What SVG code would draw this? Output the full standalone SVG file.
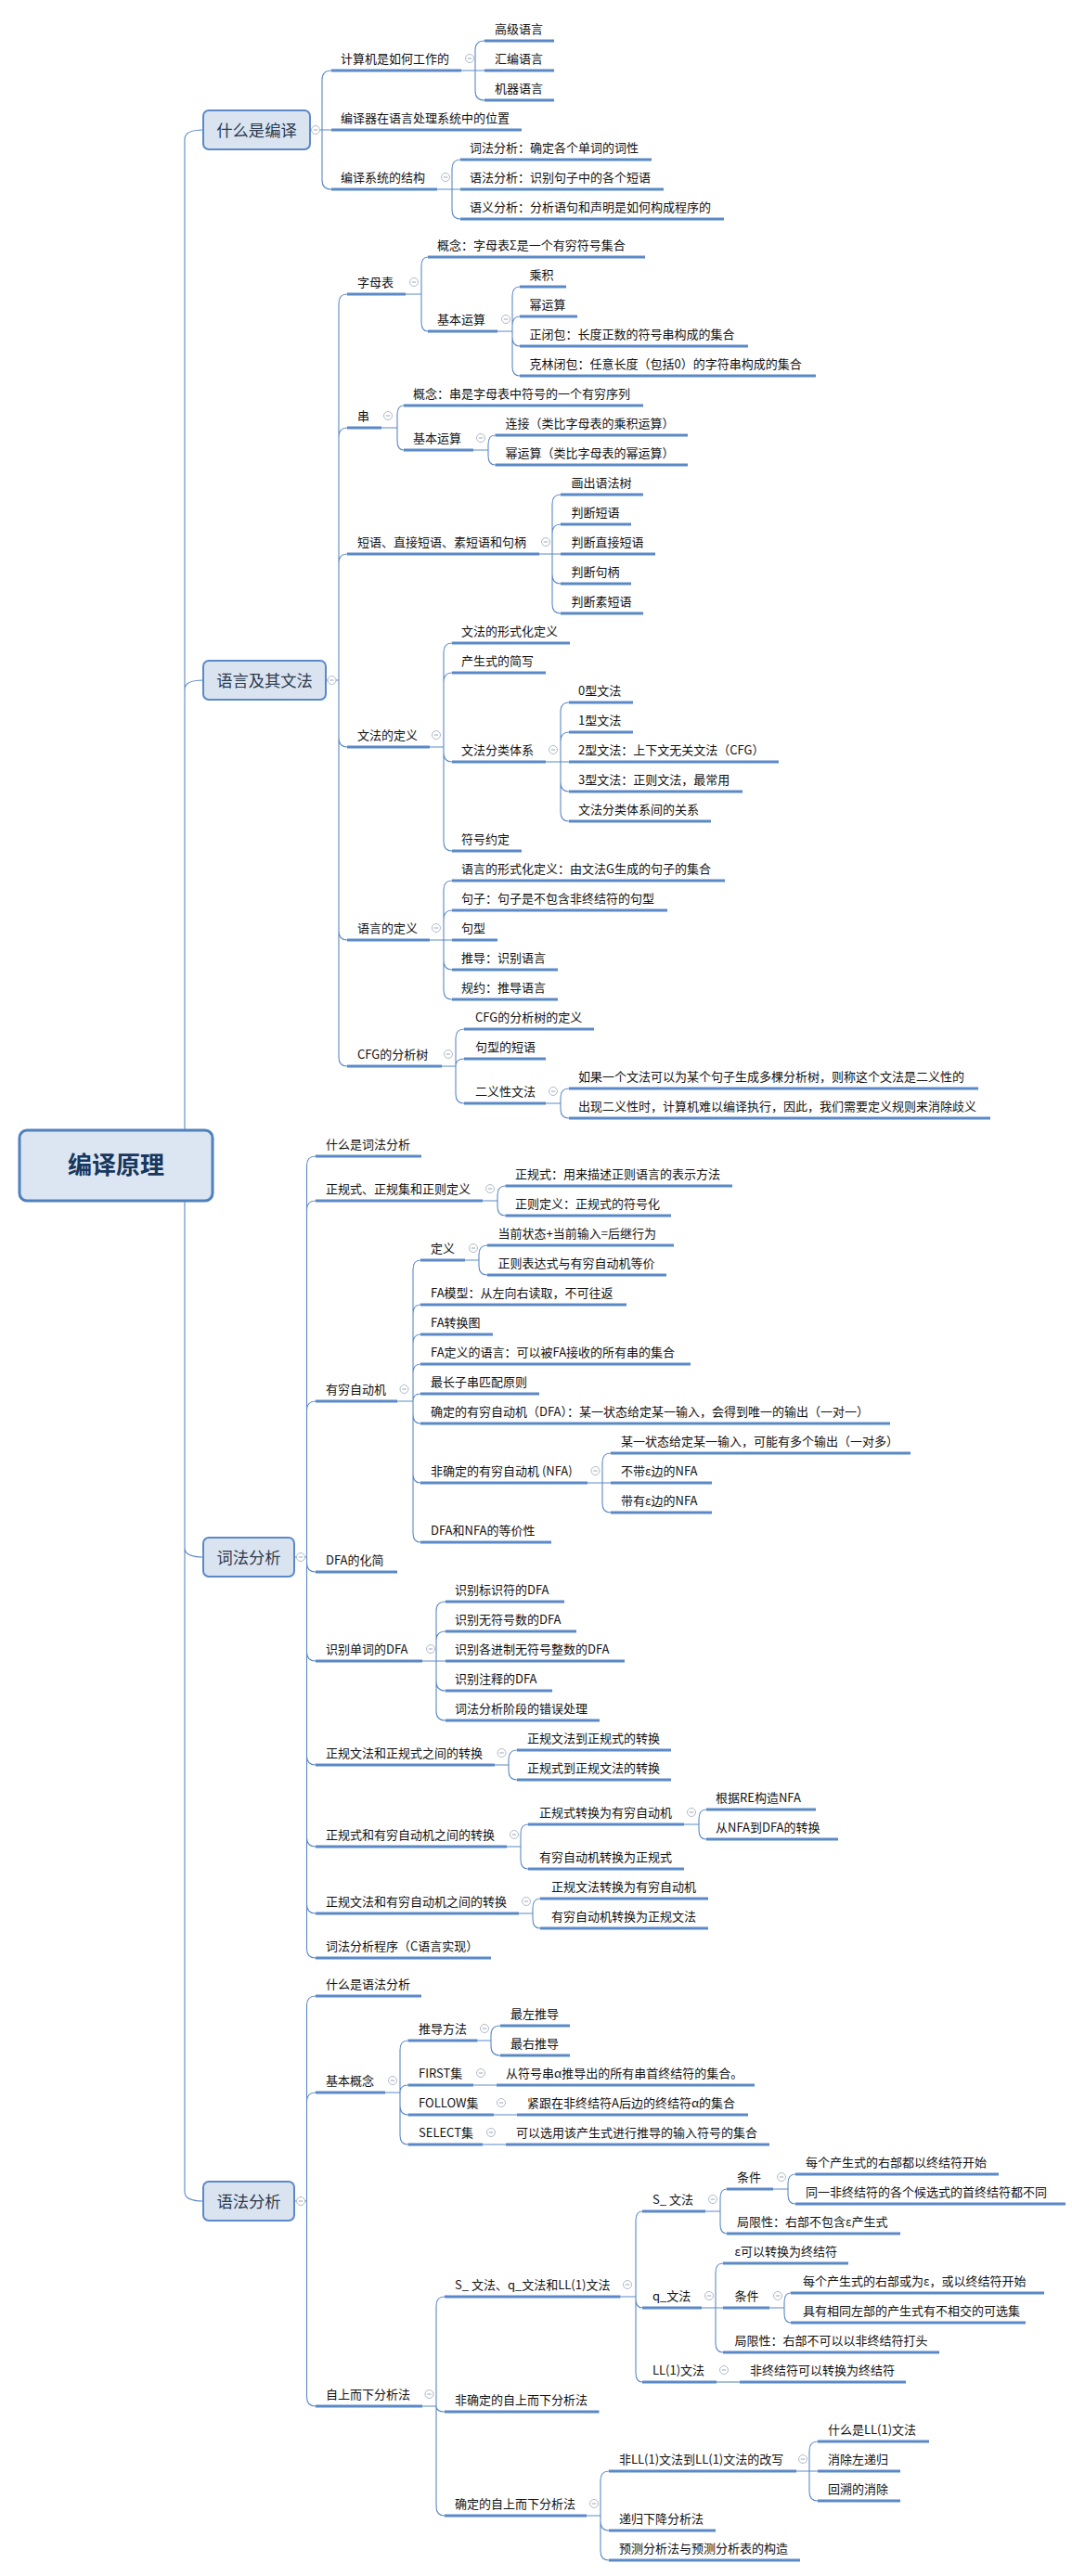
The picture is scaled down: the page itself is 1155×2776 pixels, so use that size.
<svg xmlns="http://www.w3.org/2000/svg" xmlns:xlink="http://www.w3.org/1999/xlink" width="1155" height="2776" viewBox="0 0 1155 2776">
<style>
.c path{fill:none;stroke:#5B89C7;stroke-width:1.1}
text{font-family:"Noto Sans CJK SC","Microsoft YaHei","Liberation Sans",sans-serif}
.n text{font-size:13px;fill:#111}
.n line{stroke:#5B89C7;stroke-width:3}
.m rect{fill:#DAE4F1;stroke:#5B89C7;stroke-width:2}
.m text{font-size:17.3px;fill:#2B3A4E;text-anchor:middle}
.r rect{fill:#DCE6F2;stroke:#4F81BD;stroke-width:3}
.r text{font-size:26px;font-weight:bold;fill:#17375E;text-anchor:middle}
</style>
<defs>
<g id="k"><circle r="4.5" fill="#fff" stroke="#B0BAC8" stroke-width="1"/><line x1="-2.2" x2="2.2" y1="0" y2="0" stroke="#9AA6B6" stroke-width="1"/></g>
</defs>
<rect width="1155" height="2776" fill="#fff"/>
<g id="connectors" class="c">
<path d="M199 1256V150Q199 140 219 140M199 1256V743Q199 733 219 733M199 1256V1668Q199 1678 219 1678M199 1256V2362Q199 2372 219 2372"/>
<path d="M334 140H357M347 140V86Q347 76 357 76M347 140V194Q347 204 357 204"/>
<path d="M497 76H522M512 76V54Q512 44 522 44M512 76V98Q512 108 522 108"/>
<path d="M471 204H496M487 204V182Q487 172 496 172M487 204V226Q487 236 496 236"/>
<path d="M351 733H365M365 733V327Q365 317 374 317M365 733V471Q365 461 374 461M365 733V607Q365 597 374 597M365 733V795Q365 805 374 805M365 733V1003Q365 1013 374 1013M365 733V1139Q365 1149 374 1149"/>
<path d="M437 317H454M454 317V287Q454 277 461 277M454 317V347Q454 357 461 357"/>
<path d="M536 357H552M552 357V319Q552 309 560 309M552 357V351Q552 341 560 341M552 357V363Q552 373 560 373M552 357V395Q552 405 560 405"/>
<path d="M411 461H428M428 461V447Q428 437 435 437M428 461V475Q428 485 435 485"/>
<path d="M510 485H526M526 485V479Q526 469 533.5 469M526 485V491Q526 501 533.5 501"/>
<path d="M581 597H604M595 597V543Q595 533 604 533M595 597V575Q595 565 604 565M595 597V619Q595 629 604 629M595 597V651Q595 661 604 661"/>
<path d="M463 805H478M478 805V703Q478 693 487 693M478 805V735Q478 725 487 725M478 805V811Q478 821 487 821M478 805V907Q478 917 487 917"/>
<path d="M588 821H613M604 821V767Q604 757 613 757M604 821V799Q604 789 613 789M604 821V843Q604 853 613 853M604 821V875Q604 885 613 885"/>
<path d="M463 1013H487M478 1013V959Q478 949 487 949M478 1013V991Q478 981 487 981M478 1013V1035Q478 1045 487 1045M478 1013V1067Q478 1077 487 1077"/>
<path d="M476 1149H491M491 1149V1119Q491 1109 500 1109M491 1149Q491 1141 500 1141M491 1149V1179Q491 1189 500 1189"/>
<path d="M588 1189H604M604 1189V1183Q604 1173 613 1173M604 1189V1195Q604 1205 613 1205"/>
<path d="M317 1678H330.5M330.5 1678V1256Q330.5 1246 340 1246M330.5 1678V1304Q330.5 1294 340 1294M330.5 1678V1520Q330.5 1510 340 1510M330.5 1678V1684Q330.5 1694 340 1694M330.5 1678V1780Q330.5 1790 340 1790M330.5 1678V1892Q330.5 1902 340 1902M330.5 1678V1980Q330.5 1990 340 1990M330.5 1678V2052Q330.5 2062 340 2062M330.5 1678V2100Q330.5 2110 340 2110"/>
<path d="M520 1294H536M536 1294V1288Q536 1278 544.5 1278M536 1294V1300Q536 1310 544.5 1310"/>
<path d="M428 1510H445M445 1510V1368Q445 1358 453 1358M445 1510V1416Q445 1406 453 1406M445 1510V1448Q445 1438 453 1438M445 1510V1480Q445 1470 453 1470M445 1510Q445 1502 453 1502M445 1510V1524Q445 1534 453 1534M445 1510V1588Q445 1598 453 1598M445 1510V1652Q445 1662 453 1662"/>
<path d="M501 1358H516M516 1358V1352Q516 1342 525 1342M516 1358V1364Q516 1374 525 1374"/>
<path d="M633 1598H658M649 1598V1576Q649 1566 658 1566M649 1598V1620Q649 1630 658 1630"/>
<path d="M455 1790H480M470 1790V1736Q470 1726 480 1726M470 1790V1768Q470 1758 480 1758M470 1790V1812Q470 1822 480 1822M470 1790V1844Q470 1854 480 1854"/>
<path d="M533 1902H548M548 1902V1896Q548 1886 557 1886M548 1902V1908Q548 1918 557 1918"/>
<path d="M546 1990H561M561 1990V1976Q561 1966 569 1966M561 1990V2004Q561 2014 569 2014"/>
<path d="M737 1966H753M753 1966V1960Q753 1950 761 1950M753 1966V1972Q753 1982 761 1982"/>
<path d="M559 2062H574M574 2062V2056Q574 2046 582 2046M574 2062V2068Q574 2078 582 2078"/>
<path d="M317 2372H330.5M330.5 2372V2161Q330.5 2151 340 2151M330.5 2372V2265Q330.5 2255 340 2255M330.5 2372V2583Q330.5 2593 340 2593"/>
<path d="M415 2255H431M431 2255V2209Q431 2199 439.5 2199M431 2255Q431 2247 439.5 2247M431 2255V2269Q431 2279 439.5 2279M431 2255V2301Q431 2311 439.5 2311"/>
<path d="M514.5 2199H529M529 2199V2193Q529 2183 539 2183M529 2199V2205Q529 2215 539 2215"/>
<path d="M510 2247H535M532 2279H557M520 2311H545"/>
<path d="M455 2593H470M470 2593V2485Q470 2475 479 2475M470 2593Q470 2599 479 2599M470 2593V2701Q470 2711 479 2711"/>
<path d="M668.5 2475H685M685 2475V2393Q685 2383 692 2383M685 2475V2477Q685 2487 692 2487M685 2475V2557Q685 2567 692 2567"/>
<path d="M760 2383H776M776 2383V2369Q776 2359 783 2359M776 2383V2397Q776 2407 783 2407"/>
<path d="M833 2359H849M849 2359V2353Q849 2343 857 2343M849 2359V2365Q849 2375 857 2375"/>
<path d="M756 2487H779M771 2487V2449Q771 2439 779 2439M771 2487V2525Q771 2535 779 2535"/>
<path d="M829 2487H845M845 2487V2481Q845 2471 852 2471M845 2487V2493Q845 2503 852 2503"/>
<path d="M772 2567H797"/>
<path d="M632 2711H647M647 2711V2673Q647 2663 656 2663M647 2711V2717Q647 2727 656 2727M647 2711V2749Q647 2759 656 2759"/>
<path d="M858 2663H881M872 2663V2641Q872 2631 881 2631M872 2663V2685Q872 2695 881 2695"/>
</g>

<g id="root" class="r"><rect x="21" y="1218" width="208" height="76" rx="8"/><text x="125" y="1265">编译原理</text></g>

<g id="b1" class="m"><rect x="219" y="119" width="115" height="42" rx="6"/><text x="276.5" y="146.5">什么是编译</text><use xlink:href="#k" x="340" y="140"/></g>
<g id="b1-1" class="n"><text x="367" y="68">计算机是如何工作的</text><line x1="357" y1="76" x2="497" y2="76"/><use xlink:href="#k" x="506" y="63"/></g>
<g id="b1-1-1" class="n"><text x="533" y="36">高级语言</text><line x1="522" y1="44" x2="597" y2="44"/></g>
<g id="b1-1-2" class="n"><text x="533" y="68">汇编语言</text><line x1="522" y1="76" x2="597" y2="76"/></g>
<g id="b1-1-3" class="n"><text x="533" y="100">机器语言</text><line x1="522" y1="108" x2="597" y2="108"/></g>
<g id="b1-2" class="n"><text x="367" y="132">编译器在语言处理系统中的位置</text><line x1="357" y1="140" x2="562" y2="140"/></g>
<g id="b1-3" class="n"><text x="367" y="196">编译系统的结构</text><line x1="357" y1="204" x2="471" y2="204"/><use xlink:href="#k" x="480" y="191"/></g>
<g id="b1-3-1" class="n"><text x="506" y="164">词法分析：确定各个单词的词性</text><line x1="496" y1="172" x2="702" y2="172"/></g>
<g id="b1-3-2" class="n"><text x="506" y="196">语法分析：识别句子中的各个短语</text><line x1="496" y1="204" x2="715" y2="204"/></g>
<g id="b1-3-3" class="n"><text x="506" y="228">语义分析：分析语句和声明是如何构成程序的</text><line x1="496" y1="236" x2="780" y2="236"/></g>

<g id="b2" class="m"><rect x="219" y="712" width="132" height="42" rx="6"/><text x="285" y="739.5">语言及其文法</text><use xlink:href="#k" x="357.5" y="733"/></g>
<g id="b2-1" class="n"><text x="385" y="309">字母表</text><line x1="374" y1="317" x2="437" y2="317"/><use xlink:href="#k" x="446" y="304"/></g>
<g id="b2-1-1" class="n"><text x="471" y="269">概念：字母表Σ是一个有穷符号集合</text><line x1="461" y1="277" x2="695" y2="277"/></g>
<g id="b2-1-2" class="n"><text x="471" y="349">基本运算</text><line x1="461" y1="357" x2="536" y2="357"/><use xlink:href="#k" x="545" y="344"/></g>
<g id="b2-1-2-1" class="n"><text x="570.5" y="301">乘积</text><line x1="560" y1="309" x2="610" y2="309"/></g>
<g id="b2-1-2-2" class="n"><text x="570.5" y="333">幂运算</text><line x1="560" y1="341" x2="622" y2="341"/></g>
<g id="b2-1-2-3" class="n"><text x="570.5" y="365">正闭包：长度正数的符号串构成的集合</text><line x1="560" y1="373" x2="806" y2="373"/></g>
<g id="b2-1-2-4" class="n"><text x="570.5" y="397">克林闭包：任意长度（包括0）的字符串构成的集合</text><line x1="560" y1="405" x2="879" y2="405"/></g>
<g id="b2-2" class="n"><text x="385" y="453">串</text><line x1="374" y1="461" x2="411" y2="461"/><use xlink:href="#k" x="418" y="448"/></g>
<g id="b2-2-1" class="n"><text x="445" y="429">概念：串是字母表中符号的一个有穷序列</text><line x1="435" y1="437" x2="693" y2="437"/></g>
<g id="b2-2-2" class="n"><text x="445" y="477">基本运算</text><line x1="435" y1="485" x2="510" y2="485"/><use xlink:href="#k" x="518" y="472"/></g>
<g id="b2-2-2-1" class="n"><text x="544.5" y="461">连接（类比字母表的乘积运算）</text><line x1="533.5" y1="469" x2="741" y2="469"/></g>
<g id="b2-2-2-2" class="n"><text x="544.5" y="493">幂运算（类比字母表的幂运算）</text><line x1="533.5" y1="501" x2="741" y2="501"/></g>
<g id="b2-3" class="n"><text x="385" y="589">短语、直接短语、素短语和句柄</text><line x1="374" y1="597" x2="581" y2="597"/><use xlink:href="#k" x="588" y="584"/></g>
<g id="b2-3-1" class="n"><text x="615.5" y="525">画出语法树</text><line x1="604" y1="533" x2="693" y2="533"/></g>
<g id="b2-3-2" class="n"><text x="615.5" y="557">判断短语</text><line x1="604" y1="565" x2="680" y2="565"/></g>
<g id="b2-3-3" class="n"><text x="615.5" y="589">判断直接短语</text><line x1="604" y1="597" x2="706" y2="597"/></g>
<g id="b2-3-4" class="n"><text x="615.5" y="621">判断句柄</text><line x1="604" y1="629" x2="680" y2="629"/></g>
<g id="b2-3-5" class="n"><text x="615.5" y="653">判断素短语</text><line x1="604" y1="661" x2="693" y2="661"/></g>
<g id="b2-4" class="n"><text x="385" y="797">文法的定义</text><line x1="374" y1="805" x2="463" y2="805"/><use xlink:href="#k" x="470" y="792"/></g>
<g id="b2-4-1" class="n"><text x="497" y="685">文法的形式化定义</text><line x1="487" y1="693" x2="614" y2="693"/></g>
<g id="b2-4-2" class="n"><text x="497" y="717">产生式的简写</text><line x1="487" y1="725" x2="588" y2="725"/></g>
<g id="b2-4-3" class="n"><text x="497" y="813">文法分类体系</text><line x1="487" y1="821" x2="588" y2="821"/><use xlink:href="#k" x="596" y="808"/></g>
<g id="b2-4-3-1" class="n"><text x="623" y="749">0型文法</text><line x1="613" y1="757" x2="682" y2="757"/></g>
<g id="b2-4-3-2" class="n"><text x="623" y="781">1型文法</text><line x1="613" y1="789" x2="682" y2="789"/></g>
<g id="b2-4-3-3" class="n"><text x="623" y="813">2型文法：上下文无关文法（CFG）</text><line x1="613" y1="821" x2="839" y2="821"/></g>
<g id="b2-4-3-4" class="n"><text x="623" y="845">3型文法：正则文法，最常用</text><line x1="613" y1="853" x2="800" y2="853"/></g>
<g id="b2-4-3-5" class="n"><text x="623" y="877">文法分类体系间的关系</text><line x1="613" y1="885" x2="766" y2="885"/></g>
<g id="b2-4-4" class="n"><text x="497" y="909">符号约定</text><line x1="487" y1="917" x2="562" y2="917"/></g>
<g id="b2-5" class="n"><text x="385" y="1005">语言的定义</text><line x1="374" y1="1013" x2="463" y2="1013"/><use xlink:href="#k" x="470" y="1000"/></g>
<g id="b2-5-1" class="n"><text x="497" y="941">语言的形式化定义：由文法G生成的句子的集合</text><line x1="487" y1="949" x2="781" y2="949"/></g>
<g id="b2-5-2" class="n"><text x="497" y="973">句子：句子是不包含非终结符的句型</text><line x1="487" y1="981" x2="719" y2="981"/></g>
<g id="b2-5-3" class="n"><text x="497" y="1005">句型</text><line x1="487" y1="1013" x2="536" y2="1013"/></g>
<g id="b2-5-4" class="n"><text x="497" y="1037">推导：识别语言</text><line x1="487" y1="1045" x2="601" y2="1045"/></g>
<g id="b2-5-5" class="n"><text x="497" y="1069">规约：推导语言</text><line x1="487" y1="1077" x2="601" y2="1077"/></g>
<g id="b2-6" class="n"><text x="385" y="1141">CFG的分析树</text><line x1="374" y1="1149" x2="476" y2="1149"/><use xlink:href="#k" x="483" y="1136"/></g>
<g id="b2-6-1" class="n"><text x="512" y="1101">CFG的分析树的定义</text><line x1="500" y1="1109" x2="640" y2="1109"/></g>
<g id="b2-6-2" class="n"><text x="512" y="1133">句型的短语</text><line x1="500" y1="1141" x2="588" y2="1141"/></g>
<g id="b2-6-3" class="n"><text x="512" y="1181">二义性文法</text><line x1="500" y1="1189" x2="588" y2="1189"/><use xlink:href="#k" x="596" y="1176"/></g>
<g id="b2-6-3-1" class="n"><text x="623" y="1165">如果一个文法可以为某个句子生成多棵分析树，则称这个文法是二义性的</text><line x1="613" y1="1173" x2="1054" y2="1173"/></g>
<g id="b2-6-3-2" class="n"><text x="623" y="1197">出现二义性时，计算机难以编译执行，因此，我们需要定义规则来消除歧义</text><line x1="613" y1="1205" x2="1067" y2="1205"/></g>

<g id="b3" class="m"><rect x="219" y="1657" width="98" height="42" rx="6"/><text x="268" y="1684.5">词法分析</text><use xlink:href="#k" x="324" y="1678"/></g>
<g id="b3-1" class="n"><text x="351" y="1238">什么是词法分析</text><line x1="340" y1="1246" x2="454" y2="1246"/></g>
<g id="b3-2" class="n"><text x="351" y="1286">正规式、正规集和正则定义</text><line x1="340" y1="1294" x2="520" y2="1294"/><use xlink:href="#k" x="528" y="1281"/></g>
<g id="b3-2-1" class="n"><text x="555" y="1270">正规式：用来描述正则语言的表示方法</text><line x1="544.5" y1="1278" x2="789" y2="1278"/></g>
<g id="b3-2-2" class="n"><text x="555" y="1302">正则定义：正规式的符号化</text><line x1="544.5" y1="1310" x2="723" y2="1310"/></g>
<g id="b3-3" class="n"><text x="351" y="1502">有穷自动机</text><line x1="340" y1="1510" x2="428" y2="1510"/><use xlink:href="#k" x="435.5" y="1497"/></g>
<g id="b3-3-1" class="n"><text x="464" y="1350">定义</text><line x1="453" y1="1358" x2="501" y2="1358"/><use xlink:href="#k" x="510" y="1345"/></g>
<g id="b3-3-1-1" class="n"><text x="536.5" y="1334">当前状态+当前输入=后继行为</text><line x1="525" y1="1342" x2="726" y2="1342"/></g>
<g id="b3-3-1-2" class="n"><text x="536.5" y="1366">正则表达式与有穷自动机等价</text><line x1="525" y1="1374" x2="718" y2="1374"/></g>
<g id="b3-3-2" class="n"><text x="464" y="1398">FA模型：从左向右读取，不可往返</text><line x1="453" y1="1406" x2="675" y2="1406"/></g>
<g id="b3-3-3" class="n"><text x="464" y="1430">FA转换图</text><line x1="453" y1="1438" x2="531" y2="1438"/></g>
<g id="b3-3-4" class="n"><text x="464" y="1462">FA定义的语言：可以被FA接收的所有串的集合</text><line x1="453" y1="1470" x2="744" y2="1470"/></g>
<g id="b3-3-5" class="n"><text x="464" y="1494">最长子串匹配原则</text><line x1="453" y1="1502" x2="581" y2="1502"/></g>
<g id="b3-3-6" class="n"><text x="464" y="1526">确定的有穷自动机（DFA）：某一状态给定某一输入，会得到唯一的输出（一对一）</text><line x1="453" y1="1534" x2="959" y2="1534"/></g>
<g id="b3-3-7" class="n"><text x="464" y="1590">非确定的有穷自动机 (NFA)</text><line x1="453" y1="1598" x2="633" y2="1598"/><use xlink:href="#k" x="641.5" y="1585"/></g>
<g id="b3-3-7-1" class="n"><text x="669" y="1558">某一状态给定某一输入，可能有多个输出（一对多）</text><line x1="658" y1="1566" x2="981" y2="1566"/></g>
<g id="b3-3-7-2" class="n"><text x="669" y="1590">不带ε边的NFA</text><line x1="658" y1="1598" x2="767" y2="1598"/></g>
<g id="b3-3-7-3" class="n"><text x="669" y="1622">带有ε边的NFA</text><line x1="658" y1="1630" x2="767" y2="1630"/></g>
<g id="b3-3-8" class="n"><text x="464" y="1654">DFA和NFA的等价性</text><line x1="453" y1="1662" x2="594" y2="1662"/></g>
<g id="b3-4" class="n"><text x="351" y="1686">DFA的化简</text><line x1="340" y1="1694" x2="428" y2="1694"/></g>
<g id="b3-5" class="n"><text x="351" y="1782">识别单词的DFA</text><line x1="340" y1="1790" x2="455" y2="1790"/><use xlink:href="#k" x="464" y="1777"/></g>
<g id="b3-5-1" class="n"><text x="490" y="1718">识别标识符的DFA</text><line x1="480" y1="1726" x2="608" y2="1726"/></g>
<g id="b3-5-2" class="n"><text x="490" y="1750">识别无符号数的DFA</text><line x1="480" y1="1758" x2="621" y2="1758"/></g>
<g id="b3-5-3" class="n"><text x="490" y="1782">识别各进制无符号整数的DFA</text><line x1="480" y1="1790" x2="673" y2="1790"/></g>
<g id="b3-5-4" class="n"><text x="490" y="1814">识别注释的DFA</text><line x1="480" y1="1822" x2="595" y2="1822"/></g>
<g id="b3-5-5" class="n"><text x="490" y="1846">词法分析阶段的错误处理</text><line x1="480" y1="1854" x2="646" y2="1854"/></g>
<g id="b3-6" class="n"><text x="351" y="1894">正规文法和正规式之间的转换</text><line x1="340" y1="1902" x2="533" y2="1902"/><use xlink:href="#k" x="540.5" y="1889"/></g>
<g id="b3-6-1" class="n"><text x="568" y="1878">正规文法到正规式的转换</text><line x1="557" y1="1886" x2="723" y2="1886"/></g>
<g id="b3-6-2" class="n"><text x="568" y="1910">正规式到正规文法的转换</text><line x1="557" y1="1918" x2="723" y2="1918"/></g>
<g id="b3-7" class="n"><text x="351" y="1982">正规式和有穷自动机之间的转换</text><line x1="340" y1="1990" x2="546" y2="1990"/><use xlink:href="#k" x="554" y="1977"/></g>
<g id="b3-7-1" class="n"><text x="581" y="1958">正规式转换为有穷自动机</text><line x1="569" y1="1966" x2="737" y2="1966"/><use xlink:href="#k" x="745" y="1953"/></g>
<g id="b3-7-1-1" class="n"><text x="771" y="1942">根据RE构造NFA</text><line x1="761" y1="1950" x2="879" y2="1950"/></g>
<g id="b3-7-1-2" class="n"><text x="771" y="1974">从NFA到DFA的转换</text><line x1="761" y1="1982" x2="903" y2="1982"/></g>
<g id="b3-7-2" class="n"><text x="581" y="2006">有穷自动机转换为正规式</text><line x1="569" y1="2014" x2="737" y2="2014"/></g>
<g id="b3-8" class="n"><text x="351" y="2054">正规文法和有穷自动机之间的转换</text><line x1="340" y1="2062" x2="559" y2="2062"/><use xlink:href="#k" x="567" y="2049"/></g>
<g id="b3-8-1" class="n"><text x="594" y="2038">正规文法转换为有穷自动机</text><line x1="582" y1="2046" x2="763" y2="2046"/></g>
<g id="b3-8-2" class="n"><text x="594" y="2070">有穷自动机转换为正规文法</text><line x1="582" y1="2078" x2="763" y2="2078"/></g>
<g id="b3-9" class="n"><text x="351" y="2102">词法分析程序（C语言实现）</text><line x1="340" y1="2110" x2="529" y2="2110"/></g>

<g id="b4" class="m"><rect x="219" y="2351" width="98" height="42" rx="6"/><text x="268" y="2378.5">语法分析</text><use xlink:href="#k" x="324" y="2372"/></g>
<g id="b4-1" class="n"><text x="351" y="2143">什么是语法分析</text><line x1="340" y1="2151" x2="454" y2="2151"/></g>
<g id="b4-2" class="n"><text x="351" y="2247">基本概念</text><line x1="340" y1="2255" x2="415" y2="2255"/><use xlink:href="#k" x="423" y="2242"/></g>
<g id="b4-2-1" class="n"><text x="451" y="2191">推导方法</text><line x1="439.5" y1="2199" x2="514.5" y2="2199"/><use xlink:href="#k" x="522" y="2186"/></g>
<g id="b4-2-1-1" class="n"><text x="550" y="2175">最左推导</text><line x1="539" y1="2183" x2="614" y2="2183"/></g>
<g id="b4-2-1-2" class="n"><text x="550" y="2207">最右推导</text><line x1="539" y1="2215" x2="614" y2="2215"/></g>
<g id="b4-2-2" class="n"><text x="451" y="2239">FIRST集</text><line x1="439.5" y1="2247" x2="510" y2="2247"/><use xlink:href="#k" x="518" y="2234"/></g>
<g id="b4-2-2-1" class="n"><text x="545" y="2239">从符号串α推导出的所有串首终结符的集合。</text><line x1="535" y1="2247" x2="813" y2="2247"/></g>
<g id="b4-2-3" class="n"><text x="451" y="2271">FOLLOW集</text><line x1="439.5" y1="2279" x2="532" y2="2279"/><use xlink:href="#k" x="540" y="2266"/></g>
<g id="b4-2-3-1" class="n"><text x="568" y="2271">紧跟在非终结符A后边的终结符α的集合</text><line x1="557" y1="2279" x2="806" y2="2279"/></g>
<g id="b4-2-4" class="n"><text x="451" y="2303">SELECT集</text><line x1="439.5" y1="2311" x2="520" y2="2311"/><use xlink:href="#k" x="529" y="2298"/></g>
<g id="b4-2-4-1" class="n"><text x="556" y="2303">可以选用该产生式进行推导的输入符号的集合</text><line x1="545" y1="2311" x2="829" y2="2311"/></g>
<g id="b4-3" class="n"><text x="351" y="2585">自上而下分析法</text><line x1="340" y1="2593" x2="455" y2="2593"/><use xlink:href="#k" x="462.5" y="2580"/></g>
<g id="b4-3-1" class="n"><text x="490" y="2467">S_ 文法、q_文法和LL(1)文法</text><line x1="479" y1="2475" x2="668.5" y2="2475"/><use xlink:href="#k" x="676" y="2462"/></g>
<g id="b4-3-1-1" class="n"><text x="703" y="2375">S_ 文法</text><line x1="692" y1="2383" x2="760" y2="2383"/><use xlink:href="#k" x="768" y="2370"/></g>
<g id="b4-3-1-1-1" class="n"><text x="794" y="2351">条件</text><line x1="783" y1="2359" x2="833" y2="2359"/><use xlink:href="#k" x="842" y="2346"/></g>
<g id="b4-3-1-1-1-1" class="n"><text x="868" y="2335">每个产生式的右部都以终结符开始</text><line x1="857" y1="2343" x2="1076" y2="2343"/></g>
<g id="b4-3-1-1-1-2" class="n"><text x="868" y="2367">同一非终结符的各个候选式的首终结符都不同</text><line x1="857" y1="2375" x2="1148" y2="2375"/></g>
<g id="b4-3-1-1-2" class="n"><text x="794" y="2399">局限性：右部不包含ε产生式</text><line x1="783" y1="2407" x2="970" y2="2407"/></g>
<g id="b4-3-1-2" class="n"><text x="703" y="2479">q_文法</text><line x1="692" y1="2487" x2="756" y2="2487"/><use xlink:href="#k" x="764" y="2474"/></g>
<g id="b4-3-1-2-1" class="n"><text x="791.5" y="2431">ε可以转换为终结符</text><line x1="779" y1="2439" x2="914" y2="2439"/></g>
<g id="b4-3-1-2-2" class="n"><text x="791.5" y="2479">条件</text><line x1="779" y1="2487" x2="829" y2="2487"/><use xlink:href="#k" x="838" y="2474"/></g>
<g id="b4-3-1-2-2-1" class="n"><text x="865" y="2463">每个产生式的右部或为ε，或以终结符开始</text><line x1="852" y1="2471" x2="1125" y2="2471"/></g>
<g id="b4-3-1-2-2-2" class="n"><text x="865" y="2495">具有相同左部的产生式有不相交的可选集</text><line x1="852" y1="2503" x2="1105" y2="2503"/></g>
<g id="b4-3-1-2-3" class="n"><text x="791.5" y="2527">局限性：右部不可以以非终结符打头</text><line x1="779" y1="2535" x2="1012" y2="2535"/></g>
<g id="b4-3-1-3" class="n"><text x="703" y="2559">LL(1)文法</text><line x1="692" y1="2567" x2="772" y2="2567"/><use xlink:href="#k" x="780" y="2554"/></g>
<g id="b4-3-1-3-1" class="n"><text x="808" y="2559">非终结符可以转换为终结符</text><line x1="797" y1="2567" x2="976" y2="2567"/></g>
<g id="b4-3-2" class="n"><text x="490" y="2591">非确定的自上而下分析法</text><line x1="479" y1="2599" x2="645.5" y2="2599"/></g>
<g id="b4-3-3" class="n"><text x="490" y="2703">确定的自上而下分析法</text><line x1="479" y1="2711" x2="632" y2="2711"/><use xlink:href="#k" x="640" y="2698"/></g>
<g id="b4-3-3-1" class="n"><text x="667" y="2655">非LL(1)文法到LL(1)文法的改写</text><line x1="656" y1="2663" x2="858" y2="2663"/><use xlink:href="#k" x="865" y="2650"/></g>
<g id="b4-3-3-1-1" class="n"><text x="892" y="2623">什么是LL(1)文法</text><line x1="881" y1="2631" x2="1001" y2="2631"/></g>
<g id="b4-3-3-1-2" class="n"><text x="892" y="2655">消除左递归</text><line x1="881" y1="2663" x2="970" y2="2663"/></g>
<g id="b4-3-3-1-3" class="n"><text x="892" y="2687">回溯的消除</text><line x1="881" y1="2695" x2="970" y2="2695"/></g>
<g id="b4-3-3-2" class="n"><text x="667" y="2719">递归下降分析法</text><line x1="656" y1="2727" x2="771" y2="2727"/></g>
<g id="b4-3-3-3" class="n"><text x="667" y="2751">预测分析法与预测分析表的构造</text><line x1="656" y1="2759" x2="862" y2="2759"/></g>
</svg>
